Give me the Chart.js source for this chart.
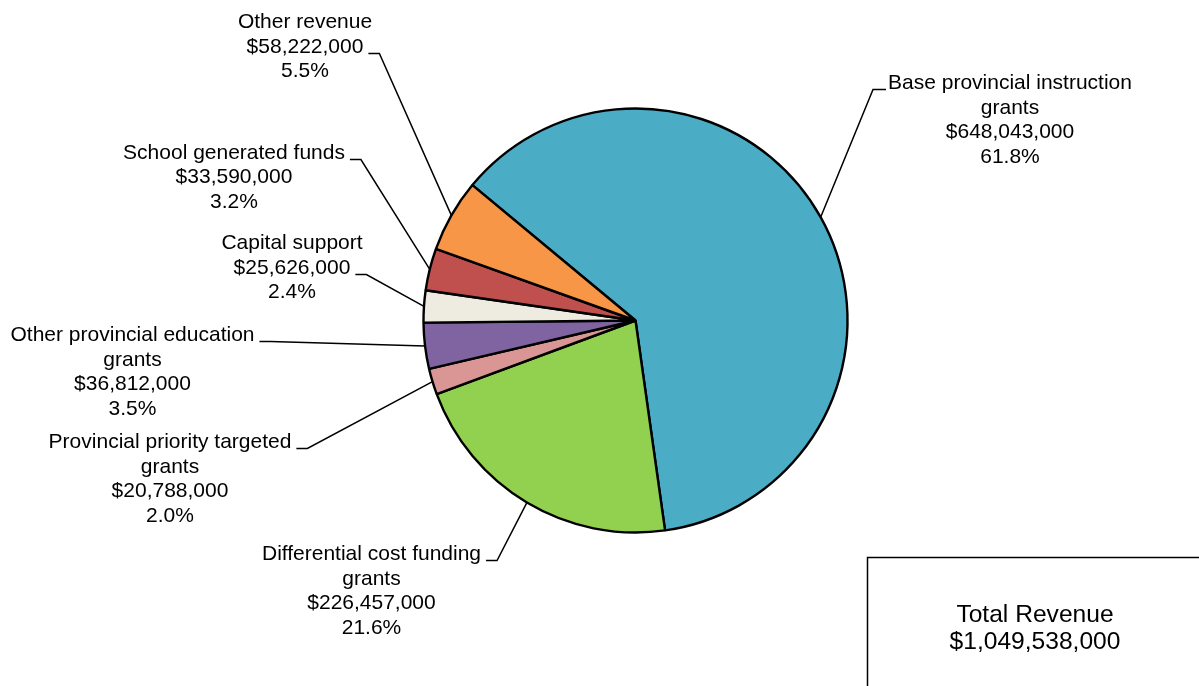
<!DOCTYPE html>
<html>
<head>
<meta charset="utf-8">
<title>Revenue by source</title>
<script src="https://cdn.jsdelivr.net/npm/chart.js@4/dist/chart.umd.min.js"></script>
<style>
  html, body { margin: 0; padding: 0; background: #ffffff; }
  #wrap { position: relative; width: 1199px; height: 686px; }
</style>
</head>
<body>
<div id="wrap"><canvas id="chart"></canvas></div>
<script>
// Revenue sources, listed clockwise from the largest slice
const categories = [
  'Base provincial instruction grants',
  'Differential cost funding grants',
  'Provincial priority targeted grants',
  'Other provincial education grants',
  'Capital support',
  'School generated funds',
  'Other revenue'
];
const revenue = [648043000, 226457000, 20788000, 36812000, 25626000, 33590000, 58222000];
const shareLabels = ['61.8%', '21.6%', '2.0%', '3.5%', '2.4%', '3.2%', '5.5%'];
const sliceColors = ['#4BACC6', '#92D050', '#D99694', '#8064A2', '#EEECE1', '#C0504D', '#F79646'];

// How each category name wraps inside its callout
const nameLines = [
  ['Base provincial instruction', 'grants'],
  ['Differential cost funding', 'grants'],
  ['Provincial priority targeted', 'grants'],
  ['Other provincial education', 'grants'],
  ['Capital support'],
  ['School generated funds'],
  ['Other revenue']
];

// Callout placement: centre x, first line mid-cap y, line carrying the leader, leader side
const calloutLayout = [
  { x: 1010, y: 82, hook: 0, side: 'left' },
  { x: 371.5, y: 553, hook: 0, side: 'right' },
  { x: 170, y: 441, hook: 0, side: 'right' },
  { x: 132.5, y: 334, hook: 0, side: 'right' },
  { x: 292, y: 242, hook: 1, side: 'right' },
  { x: 234, y: 151.5, hook: 0, side: 'right' },
  { x: 305, y: 21, hook: 1, side: 'right' }
];

const FONT = '"Liberation Sans", Arial, Helvetica, sans-serif';
const money = v => '$' + v.toLocaleString('en-US');

const calloutPlugin = {
  id: 'callouts',
  afterDatasetsDraw(chart) {
    const ctx = chart.ctx;
    const arcs = chart.getDatasetMeta(0).data;
    const lineGap = 24.5;
    ctx.save();
    ctx.font = '21px ' + FONT;
    ctx.fillStyle = '#000000';
    ctx.strokeStyle = '#000000';
    ctx.lineWidth = 1.5;
    ctx.textAlign = 'center';
    ctx.textBaseline = 'alphabetic';

    arcs.forEach((arc, i) => {
      const lay = calloutLayout[i];
      const lines = nameLines[i].concat([money(revenue[i]), shareLabels[i]]);
      lines.forEach((t, k) => {
        ctx.fillText(t, lay.x, lay.y + k * lineGap + 7.3);
      });

      // leader: short horizontal hook beside the text, then to the slice rim
      const hookText = lines[lay.hook];
      const w = ctx.measureText(hookText).width;
      const by = Math.round(lay.y + lay.hook * lineGap + 7.3) + 0.5;
      let x0, x1;
      if (lay.side === 'right') {
        x0 = lay.x + w / 2 + 5;
        x1 = x0 + 11;
      } else {
        x0 = lay.x - w / 2 - 2;
        x1 = x0 - 13;
      }
      const p = arc.getProps(['x', 'y', 'startAngle', 'endAngle', 'outerRadius'], true);
      const mid = (p.startAngle + p.endAngle) / 2;
      const ex = p.x + Math.cos(mid) * p.outerRadius;
      const ey = p.y + Math.sin(mid) * p.outerRadius;
      ctx.beginPath();
      ctx.moveTo(x0, by);
      ctx.lineTo(x1, by);
      ctx.lineTo(ex, ey);
      ctx.stroke();
    });

    // Total box in the lower right corner
    const total = revenue.reduce((a, b) => a + b, 0);
    ctx.lineWidth = 1.5;
    ctx.strokeRect(867.5, 557.5, 400, 200);
    ctx.font = '24.6px ' + FONT;
    ctx.fillText('Total Revenue', 1035, 613 + 8.5);
    ctx.fillText(money(total), 1035, 640.5 + 8.5);
    ctx.restore();
  }
};

new Chart(document.getElementById('chart'), {
  type: 'pie',
  data: {
    labels: categories,
    datasets: [{
      data: revenue,
      backgroundColor: sliceColors,
      borderColor: '#000000',
      borderWidth: 2.4,
      borderAlign: 'center'
    }]
  },
  options: {
    responsive: true,
    maintainAspectRatio: false,
    devicePixelRatio: 1,
    animation: false,
    rotation: -50.3,
    radius: 212,
    layout: { padding: { left: 421, right: 349, top: 106, bottom: 151 } },
    plugins: {
      legend: { display: false },
      tooltip: { enabled: false },
      title: { display: false }
    }
  },
  plugins: [calloutPlugin]
});
</script>
</body>
</html>
